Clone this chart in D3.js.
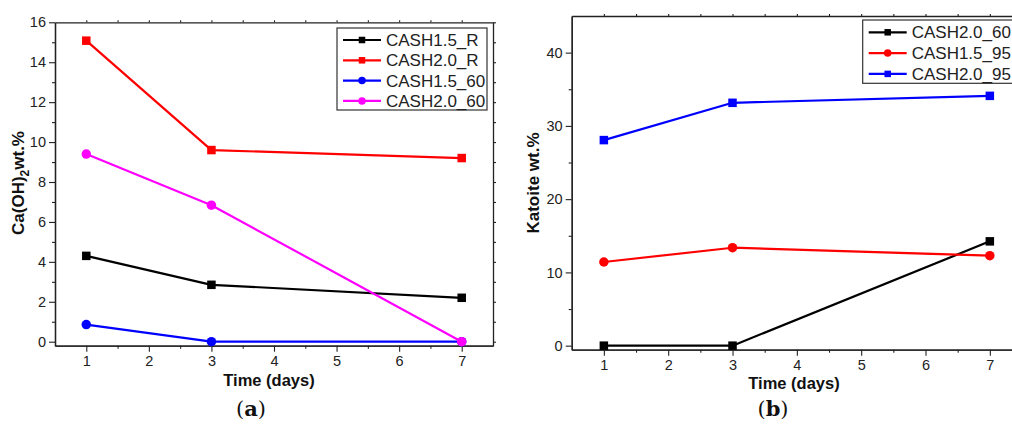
<!DOCTYPE html>
<html>
<head>
<meta charset="utf-8">
<script src="https://cdn.jsdelivr.net/npm/d3@7"></script>
<style>
  body { margin: 0; background: #fff; }
  svg { display: block; font-family: "Liberation Sans", Arial, sans-serif; }
</style>
</head>
<body>
<div class="chart"></div>
<script>
const width = 1012
const height = 424

// data
const days = [1, 3, 7]
const xTicks = [1, 2, 3, 4, 5, 6, 7]

const namesA = ["CASH1.5_R", "CASH2.0_R", "CASH1.5_60", "CASH2.0_60"]
const valuesA = [
    [4.3, 2.85, 2.2],
    [15.08, 9.6, 9.2],
    [0.86, 0, 0],
    [9.4, 6.84, 0]
]
const colorsA = ["#000000", "#ff0000", "#0000ff", "#ff00ff"]
const shapesA = ["square", "square", "circle", "circle"]
const yTicksA = [0, 2, 4, 6, 8, 10, 12, 14, 16]

const namesB = ["CASH2.0_60", "CASH1.5_95", "CASH2.0_95"]
const valuesB = [
    [0, 0, 14.24],
    [11.42, 13.37, 12.28],
    [28.06, 33.15, 34.1]
]
const colorsB = ["#000000", "#ff0000", "#0000ff"]
const shapesB = ["square", "circle", "square"]
const yTicksB = [0, 10, 20, 30, 40]

const axisColor = "#222"

const svg = d3.select(".chart")
    .append("svg")
    .attr("width", width)
    .attr("height", height)

svg.append("rect").attr("width", width).attr("height", height).attr("fill", "#fff")

function drawMarker(g, shape, cx, cy, size, color) {
    if (shape === "square") {
        g.append("rect")
            .attr("x", cx - size / 2)
            .attr("y", cy - size / 2)
            .attr("width", size)
            .attr("height", size)
            .attr("fill", color)
    } else {
        g.append("circle")
            .attr("cx", cx)
            .attr("cy", cy)
            .attr("r", size / 2 + 0.5)
            .attr("fill", color)
    }
}

function drawPanel(opt) {
    const x = d3.scaleLinear().domain([0.5, 7.5]).range(opt.xRange)
    const y = d3.scaleLinear().domain(opt.yDomain).range(opt.yRange)
    const g = svg.append("g")

    const [x0, x1] = opt.xRange
    const [yb, yt] = opt.yRange

    // minor ticks
    const xMinor = d3.range(1.5, 7.5, 1)
    const yMinor = opt.yMinor

    // bottom axis
    g.append("g")
        .attr("transform", `translate(0, ${yb})`)
        .call(d3.axisBottom(x).tickValues(xTicks).tickSize(6).tickPadding(4).tickSizeOuter(0).tickFormat(d3.format("d")))
    g.append("g")
        .attr("transform", `translate(0, ${yb})`)
        .call(d3.axisBottom(x).tickValues(xMinor).tickSize(3).tickSizeOuter(0).tickFormat(""))

    // left axis
    g.append("g")
        .attr("transform", `translate(${x0}, 0)`)
        .call(d3.axisLeft(y).tickValues(opt.yTicks).tickSize(6).tickPadding(3).tickSizeOuter(0).tickFormat(d3.format("d")))
    g.append("g")
        .attr("transform", `translate(${x0}, 0)`)
        .call(d3.axisLeft(y).tickValues(yMinor).tickSize(3).tickSizeOuter(0).tickFormat(""))

    // top and right mirror axes
    g.append("g")
        .attr("transform", `translate(0, ${yt})`)
        .call(d3.axisTop(x).tickValues(xTicks.concat(xMinor)).tickSize(2).tickSizeOuter(0).tickFormat(""))
    g.append("g")
        .attr("transform", `translate(${x1}, 0)`)
        .call(d3.axisLeft(y).tickValues(opt.yTicks.concat(yMinor)).tickSize(-3).tickSizeOuter(0).tickFormat(""))

    g.selectAll(".domain").attr("stroke", axisColor).attr("stroke-width", 1.3)
    g.selectAll(".tick line").attr("stroke", axisColor).attr("stroke-width", 1.1)
    g.selectAll(".tick text")
        .attr("fill", axisColor)
        .attr("font-size", 14.5)
        .attr("font-family", "Liberation Sans, Arial, sans-serif")

    // lines and markers
    const line = d3.line()
        .x((d, i) => x(days[i]))
        .y(d => y(d))

    opt.values.forEach((vals, k) => {
        g.append("path")
            .attr("d", line(vals))
            .attr("fill", "none")
            .attr("stroke", opt.colors[k])
            .attr("stroke-width", 2.2)
            .attr("stroke-linejoin", "round")
        vals.forEach((v, i) => drawMarker(g, opt.shapes[k], x(days[i]), y(v), 8.5, opt.colors[k]))
    })

    // legend
    const lg = g.append("g")
    lg.append("rect")
        .attr("x", opt.legend.x)
        .attr("y", opt.legend.y)
        .attr("width", opt.legend.w)
        .attr("height", opt.legend.h)
        .attr("fill", "#fff")
        .attr("stroke", "#333")
        .attr("stroke-width", 1.2)
    opt.names.forEach((name, k) => {
        const ry = opt.legend.y + opt.legend.first + k * opt.legend.step
        const lx = opt.legend.x + 6
        lg.append("line")
            .attr("x1", lx).attr("x2", lx + 38)
            .attr("y1", ry).attr("y2", ry)
            .attr("stroke", opt.colors[k])
            .attr("stroke-width", 2.2)
        drawMarker(lg, opt.shapes[k], lx + 19, ry, 6.5, opt.colors[k])
        lg.append("text")
            .attr("x", lx + 43)
            .attr("y", ry + 6)
            .attr("font-size", 17)
            .attr("fill", axisColor)
            .text(name)
    })

    // axis titles
    g.append("text")
        .attr("x", opt.xTitle[0])
        .attr("y", opt.xTitle[1])
        .attr("text-anchor", "middle")
        .attr("font-size", opt.xTitleSize)
        .attr("font-weight", "bold")
        .attr("fill", "#111")
        .text("Time (days)")

    const yt2 = g.append("text")
        .attr("transform", `translate(${opt.yTitle[0]}, ${opt.yTitle[1]}) rotate(-90)`)
        .attr("text-anchor", "middle")
        .attr("font-size", 17)
        .attr("font-weight", "bold")
        .attr("fill", "#111")
    opt.yTitleParts.forEach(p => {
        const ts = yt2.append("tspan").text(p.t)
        if (p.sub) ts.attr("font-size", 12).attr("dy", 5)
        if (p.after) ts.attr("dy", -5)
    })

    // panel caption
    const cap = g.append("text")
        .attr("x", opt.caption[0])
        .attr("y", opt.caption[1])
        .attr("text-anchor", "middle")
        .attr("font-size", 21)
        .attr("font-family", "DejaVu Serif, Liberation Serif, serif")
        .attr("fill", "#111")
    cap.append("tspan").text("(")
    cap.append("tspan").attr("font-weight", "bold").text(opt.letter)
    cap.append("tspan").text(")")
}

drawPanel({
    xRange: [55, 493],
    yDomain: [-0.2, 16],
    yRange: [345.7, 22.3],
    yTicks: yTicksA,
    yMinor: [1, 3, 5, 7, 9, 11, 13, 15],
    names: namesA,
    values: valuesA,
    colors: colorsA,
    shapes: shapesA,
    legend: { x: 337, y: 28, w: 150, h: 82, first: 12, step: 20.3 },
    xTitle: [269, 386],
    xTitleSize: 16.5,
    yTitle: [24, 183],
    yTitleParts: [{ t: "Ca(OH)" }, { t: "2", sub: true }, { t: "wt.%", after: true }],
    caption: [251, 416],
    letter: "a"
})

drawPanel({
    xRange: [571.7, 1022],
    yDomain: [-0.55, 45],
    yRange: [349.7, 16],
    yTicks: yTicksB,
    yMinor: [5, 15, 25, 35],
    names: namesB,
    values: valuesB,
    colors: colorsB,
    shapes: shapesB,
    legend: { x: 862.7, y: 20, w: 170, h: 63.3, first: 12.3, step: 20.8 },
    xTitle: [794, 389],
    xTitleSize: 16.5,
    yTitle: [539, 183],
    yTitleParts: [{ t: "Katoite wt.%" }],
    caption: [773, 416],
    letter: "b"
})
</script>
</body>
</html>
